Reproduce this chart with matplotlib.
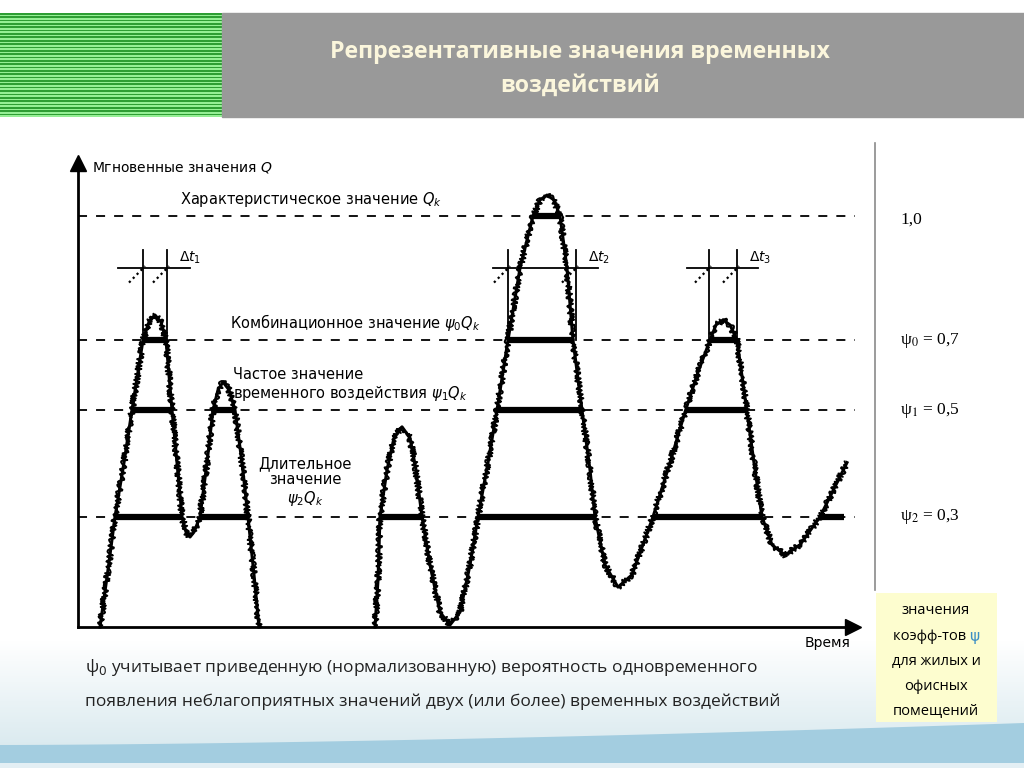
import numpy as np
import matplotlib.pyplot as plt
from matplotlib.patches import Rectangle, Polygon
from matplotlib.colors import ListedColormap

# Уровни репрезентативных значений (доля от Qk)
lvl_k = 1.0
lvl_0 = 0.698
lvl_1 = 0.528
lvl_2 = 0.268
niveis = [lvl_k, lvl_0, lvl_1, lvl_2]

# Мгновенные значения Q: два участка кривой (время, значение)
t1 = [22, 30, 37, 46, 54, 65, 71, 77, 83, 88, 94, 99, 104, 108, 112, 116, 122,
      129, 135, 140, 145, 151, 157, 164, 170, 176, 181]
q1 = [0, 0.139, 0.268, 0.40, 0.528, 0.698, 0.742, 0.759, 0.742, 0.698, 0.528,
      0.40, 0.268, 0.231, 0.219, 0.231, 0.268, 0.40, 0.528, 0.577, 0.596, 0.577,
      0.528, 0.40, 0.268, 0.127, 0]
t2 = [297, 300, 302, 309, 316, 324, 332, 338, 344, 352, 362, 372, 382, 392, 400,
      410, 419, 430, 442, 455, 462, 469, 476, 482, 489, 495, 504, 512, 517, 527,
      540, 554, 575, 592, 607, 620, 632, 638, 645, 652, 659, 669, 677, 684, 694,
      707, 722, 742, 769]
q2 = [0, 0.114, 0.268, 0.382, 0.460, 0.487, 0.460, 0.382, 0.268, 0.151, 0.036,
      0.005, 0.036, 0.151, 0.268, 0.40, 0.528, 0.698, 0.873, 1.0, 1.039, 1.051,
      1.039, 1.0, 0.873, 0.698, 0.528, 0.382, 0.268, 0.151, 0.097, 0.127, 0.268,
      0.40, 0.523, 0.620, 0.698, 0.735, 0.747, 0.735, 0.698, 0.523, 0.382, 0.268,
      0.20, 0.175, 0.20, 0.268, 0.40]

# Интервалы превышения уровней (уровень, начало, конец)
barras = [
    (lvl_2, 37, 104), (lvl_2, 122, 170), (lvl_2, 302, 344), (lvl_2, 400, 517),
    (lvl_2, 575, 684), (lvl_2, 742, 766),
    (lvl_1, 54, 94), (lvl_1, 135, 157), (lvl_1, 419, 504), (lvl_1, 607, 669),
    (lvl_0, 65, 87), (lvl_0, 430, 495), (lvl_0, 632, 659),
    (lvl_k, 455, 482),
]

# Отрезки Δt (начало линии, конец линии, левая и правая границы, подпись)
delta_t = [
    (40, 112, 65, 89, r'$\Delta t_1$'),
    (415, 520, 430, 498, r'$\Delta t_2$'),
    (609, 680, 631, 659, r'$\Delta t_3$'),
]
q_delta = 0.873
q_topo = 0.917

valores_dir = ['1,0', 'ψ$_0$ = 0,7', 'ψ$_1$ = 0,5', 'ψ$_2$ = 0,3']

fig = plt.figure(figsize=(10.24, 7.68), dpi=100)

# --- фон слайда в пикселях ---
bg = fig.add_axes([0, 0, 1, 1])
bg.set_xlim(0, 1024)
bg.set_ylim(768, 0)
bg.axis('off')

listras = np.tile([[0], [1]], (31, 1))
bg.imshow(listras, cmap=ListedColormap(['#2e9e34', '#95ef95']), aspect='auto',
          extent=(0, 222, 117, 13), interpolation='nearest')
bg.add_patch(Rectangle((222, 13), 802, 104, color='#999999'))
bg.text(580, 69, 'Репрезентативные значения временных\nвоздействий',
        ha='center', va='center', fontsize=16.7, fontweight='bold',
        family='Open Sans', color='#fbf6dc', linespacing=1.5)

grad = np.linspace(0, 1, 50).reshape(-1, 1)
bg.imshow(grad, cmap=ListedColormap(np.linspace([1, 1, 1], [0.86, 0.92, 0.94], 50)),
          aspect='auto', extent=(0, 1024, 745, 640), zorder=0)
bx = np.linspace(0, 1024, 60)
topo = 745 - 22 * (bx / 1024) ** 1.6
bg.add_patch(Polygon(np.column_stack([np.r_[bx, 1024, 0], np.r_[topo, 763, 763]]),
                     color='#a3cde0', lw=0))
bg.add_patch(Rectangle((0, 763), 1024, 5, color='#e3eff4', lw=0))

bg.plot([875, 875], [143, 590], color='#8a8a8a', lw=1.2)
ys_dir = [220, 340, 410, 517]
for txt, y in zip(valores_dir, ys_dir):
    bg.text(900, y, txt, ha='left', va='center', fontsize=12.5,
            family='Liberation Serif', math_fontfamily='stix')

bg.add_patch(Rectangle((876, 593), 121, 129, color='#fdfdcf', lw=0))
caixa = ['значения', 'коэфф-тов', 'для жилых и', 'офисных', 'помещений']
ys_caixa = [610, 636, 661, 686, 711]
for txt, y in zip(caixa, ys_caixa):
    if txt == 'коэфф-тов':
        t = bg.text(931, y, txt + ' ', ha='center', va='center', fontsize=10.5,
                    family='Open Sans')
        bg.annotate('ψ', xy=(1, 0.5), xycoords=t, va='center', ha='left',
                    fontsize=11, color='#3d8fc4', family='DejaVu Sans')
    else:
        bg.text(936, y, txt, ha='center', va='center', fontsize=10.5,
                family='Open Sans')

bg.text(85, 668, 'ψ$_0$ учитывает приведенную (нормализованную) вероятность одновременного',
        ha='left', va='center', fontsize=12.5, family='Open Sans', color='#222222',
        math_fontfamily='dejavusans')
bg.text(85, 702, 'появления неблагоприятных значений двух (или более) временных воздействий',
        ha='left', va='center', fontsize=12.5, family='Open Sans', color='#222222')

# --- график ---
ax = fig.add_axes([78 / 1024, (768 - 627) / 768, 780 / 1024, 472 / 768])
ax.set_xlim(0, 780)
ax.set_ylim(0, 472 / 411)
ax.axis('off')
ax.patch.set_alpha(0)

for nv in niveis:
    ax.plot([0, 777], [nv, nv], color='black', lw=1.3, ls=(0, (5, 5)))

for q, a, b in barras:
    ax.plot([a, b], [q, q], color='black', lw=4.5, solid_capstyle='butt')

for tt, qq in [(t1, q1), (t2, q2)]:
    ax.plot(tt, qq, color='black', lw=2.2, clip_on=False)
    ln, = ax.plot(tt, qq, color='black', lw=1.4, clip_on=False)
    ln.set_sketch_params(3.0, 5, 4)

for a, b, e, d, rot in delta_t:
    ax.plot([a, b], [q_delta, q_delta], color='black', lw=1.3)
    for v in (e, d):
        ax.plot([v, v], [lvl_0, q_topo], color='black', lw=1.3)
        ax.plot([v - 14, v + 2], [q_delta - 0.035, q_delta + 0.005], color='black',
                lw=1.6, ls=(0, (1, 1.5)))
    ax.text(d + 12, q_delta + 0.025, rot, fontsize=10, ha='left', va='center')

ax.plot([0, 0], [0, 1.13], color='black', lw=2, clip_on=False)
ax.plot([0, 775], [0, 0], color='black', lw=2, clip_on=False)
ax.plot([0], [1.13], marker='^', ms=11, color='black', clip_on=False)
ax.plot([775], [0], marker='>', ms=11, color='black', clip_on=False)

ax.text(14, 1.119, 'Мгновенные значения $Q$', fontsize=10, va='center', ha='left')
ax.text(102, 1.039, 'Характеристическое значение $Q_k$', fontsize=10.5, va='center', ha='left')
ax.text(152, 0.74, r'Комбинационное значение $\psi_0 Q_k$', fontsize=10.5, va='center', ha='left')
ax.text(155, 0.589, 'Частое значение\n' + r'временного воздействия $\psi_1 Q_k$', fontsize=10.5,
        va='center', ha='left', linespacing=1.1)
ax.text(227, 0.353, 'Длительное\nзначение\n' + r'$\psi_2 Q_k$', fontsize=10.5,
        va='center', ha='center', linespacing=1.1)
ax.text(772, -0.022, 'Время', fontsize=10, va='top', ha='right')

fig.savefig('out.png', dpi=100)
